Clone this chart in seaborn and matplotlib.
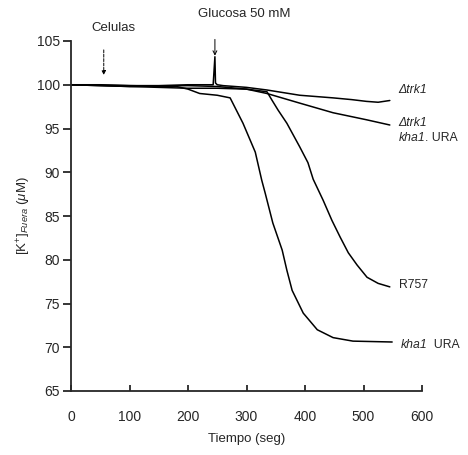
import numpy as np
import pandas as pd
import matplotlib
matplotlib.use("Agg")
import matplotlib.pyplot as plt
import seaborn as sns

# ---- data ----
t_dtrk1 = [0, 50, 100, 150, 200, 243, 246, 247, 250, 260, 300, 335, 391, 448, 480, 505, 525, 545]
v_dtrk1 = [100.0, 100.0, 99.9, 99.9, 100.0, 100.0, 103.2, 100.2, 100.0, 99.9, 99.7, 99.4, 98.8, 98.5, 98.3, 98.1, 98.0, 98.2]

t_dtrk1_kha1 = [0, 100, 200, 250, 300, 335, 391, 448, 505, 545]
v_dtrk1_kha1 = [100.0, 99.8, 99.9, 99.8, 99.5, 99.0, 97.9, 96.8, 96.0, 95.4]

t_r757 = [0, 100, 150, 200, 250, 300, 335, 343, 354, 369, 391, 405, 414, 431, 446, 460, 474, 489, 506, 525, 545]
v_r757 = [100.0, 99.8, 99.7, 99.6, 99.6, 99.5, 99.2, 98.3, 97.1, 95.6, 92.9, 91.1, 89.2, 86.8, 84.5, 82.6, 80.8, 79.4, 78.0, 77.3, 76.9]

t_kha1 = [0, 100, 180, 200, 220, 250, 272, 294, 315, 326, 332, 345, 361, 369, 378, 397, 421, 448, 482, 549]
v_kha1 = [100.0, 99.9, 99.8, 99.5, 99.0, 98.8, 98.5, 95.6, 92.3, 89.1, 87.6, 84.2, 81.1, 78.8, 76.5, 73.9, 72.0, 71.1, 70.7, 70.6]

x_ticks = [0, 100, 200, 300, 400, 500, 600]
y_ticks = [65, 70, 75, 80, 85, 90, 95, 100, 105]

frames = []
for name, t, v in [("dtrk1", t_dtrk1, v_dtrk1), ("dtrk1_kha1", t_dtrk1_kha1, v_dtrk1_kha1),
                   ("R757", t_r757, v_r757), ("kha1", t_kha1, v_kha1)]:
    frames.append(pd.DataFrame({"t": t, "v": v, "serie": name}))
df = pd.concat(frames, ignore_index=True)

sns.set_style("ticks")
plt.rcParams["font.family"] = ["Liberation Sans", "DejaVu Sans"]
plt.rcParams["mathtext.fontset"] = "custom"
plt.rcParams["mathtext.rm"] = "Liberation Sans"
plt.rcParams["mathtext.it"] = "Liberation Sans:italic"

fig = plt.figure(figsize=(4.68, 4.55), dpi=100)
ax = fig.add_axes([71/468, 1 - 391/455, (422 - 71)/468, (391 - 41)/455])

sns.lineplot(data=df, x="t", y="v", hue="serie", units="serie", estimator=None,
             palette=["black"] * 4, legend=False, linewidth=1.1, ax=ax, sort=False)

ax.set_xlim(0, 600)
ax.set_ylim(65, 105)
ax.set_xticks(x_ticks)
ax.set_yticks(y_ticks)
ax.tick_params(axis="y", direction="out", length=6, width=1.3, labelsize=10, pad=2)
ax.tick_params(axis="x", direction="in", length=4, width=1.3, labelsize=10, pad=14)
sns.despine(ax=ax)
for s in ["left", "bottom"]:
    ax.spines[s].set_linewidth(1.3)
ax.set_xlabel("Tiempo (seg)", fontsize=9.5, labelpad=6)
ax.set_ylabel(r"[K$^{+}$]$_{Fuera}$ ($\mu$M)", fontsize=9.5, labelpad=3)


def rich(x, y, parts, fs=8.8):
    txt, st = parts[0]
    prev = ax.text(x, y, txt, fontsize=fs, style=st, ha="left", va="center", clip_on=False)
    for txt, st in parts[1:]:
        prev = ax.annotate(txt, xy=(1, 0), xycoords=prev, fontsize=fs, style=st,
                           ha="left", va="bottom", annotation_clip=False)


rich(560, 99.4, [("Δtrk1", "italic")])
rich(560, 95.6, [("Δtrk1", "italic")])
rich(560, 93.9, [("kha1", "italic"), (". URA", "normal")])
rich(560, 77.1, [("R757", "normal")])
rich(563, 70.2, [("kha1", "italic"), ("  URA", "normal")])

# annotations
ax.text(73, 106.5, "Celulas", fontsize=9.5, ha="center", va="center", clip_on=False)
ax.text(297, 108.1, "Glucosa 50 mM", fontsize=9.5, ha="center", va="center", clip_on=False)
ax.annotate("", xy=(56, 100.8), xytext=(56, 104.3), annotation_clip=False,
            arrowprops=dict(arrowstyle="-|>", lw=0.7, ls=(0, (3, 1.5)), color="black",
                            mutation_scale=6))
ax.annotate("", xy=(246, 103.0), xytext=(246, 105.5), annotation_clip=False,
            arrowprops=dict(arrowstyle="->", lw=0.7, color="black", mutation_scale=7))

fig.savefig("out.png", dpi=100)
